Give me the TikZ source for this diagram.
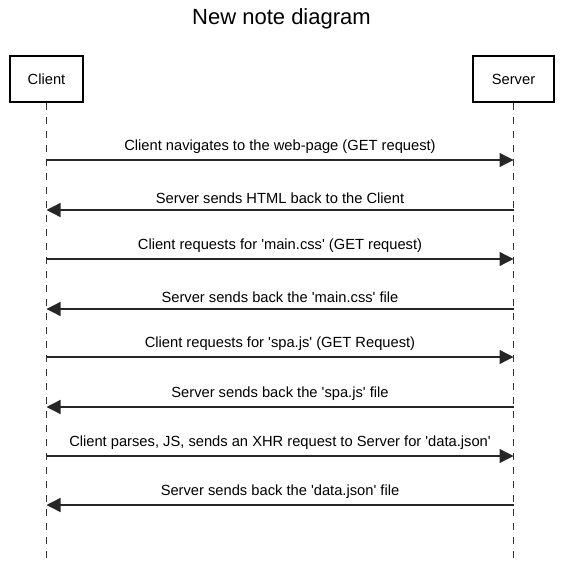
\documentclass[tikz,border=0pt]{standalone}
\usepackage{fontspec}
\setmainfont{Liberation Sans}
\usetikzlibrary{arrows.meta}
\newcommand{\qt}{\textquotesingle}

\begin{document}
\begin{tikzpicture}[x=1pt, y=-1pt,
    actor/.style={draw, line width=2.3pt, minimum width=73pt, minimum height=46pt, font=\fontsize{14.7}{17}\selectfont},
    life/.style={draw=black!80, line width=1.1pt, dash pattern=on 7pt off 7pt},
    msg/.style={draw=black!85, line width=1.3pt, -{Triangle[length=14pt, width=14pt]}},
    lbl/.style={above=2pt, font=\fontsize{14.7}{17}\selectfont}]
    \useasboundingbox (0,0) rectangle (563,567);
    \node[font=\fontsize{22}{26}\selectfont] (title) at (281.5,19) {New note diagram};
    \node[actor] (client) at (46.5,79) {Client}; \node[actor, minimum width=81pt] (server) at (513.5,79) {Server};
    \coordinate (cend) at (46.5,563); \coordinate (send) at (513.5,563);
    \draw[life] (client) -- (cend); \draw[life] (server) -- (send);
    \foreach \i/\y in {1/160, 2/210, 3/259, 4/309, 5/357, 6/407, 7/456, 8/505}
        {\coordinate (c\i) at (46.5,\y); \coordinate (s\i) at (513.5,\y);}
    \draw[msg] (c1) -- node[lbl] {Client navigates to the web-page (GET request)} (s1);
    \draw[msg] (s2) -- node[lbl] {Server sends HTML back to the Client} (c2);
    \draw[msg] (c3) -- node[lbl] {Client requests for \qt main.css\qt{} (GET request)} (s3);
    \draw[msg] (s4) -- node[lbl] {Server sends back the \qt main.css\qt{} file} (c4);
    \draw[msg] (c5) -- node[lbl] {Client requests for \qt spa.js\qt{} (GET Request)} (s5);
    \draw[msg] (s6) -- node[lbl] {Server sends back the \qt spa.js\qt{} file} (c6);
    \draw[msg] (c7) -- node[lbl] {Client parses, JS, sends an XHR request to Server for \qt data.json\qt} (s7);
    \draw[msg] (s8) -- node[lbl] {Server sends back the \qt data.json\qt{} file} (c8);
\end{tikzpicture}
\end{document}
